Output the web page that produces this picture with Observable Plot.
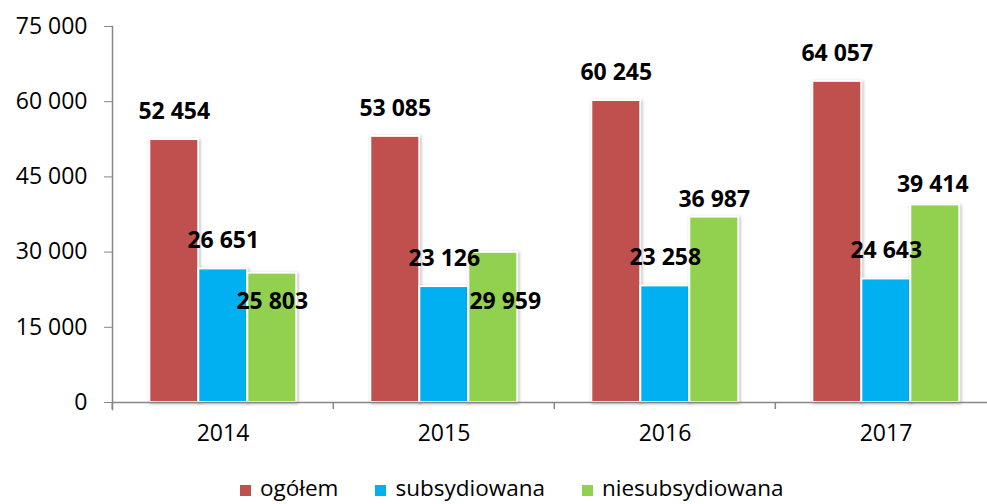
<!DOCTYPE html>
<html><head><meta charset="utf-8">
<script src="https://cdn.jsdelivr.net/npm/d3@7"></script>
<script src="https://cdn.jsdelivr.net/npm/@observablehq/plot@0.6"></script>
<style>
body{margin:0;background:#fff;font-family:"Open Sans",sans-serif;overflow:hidden}
#chart{position:relative;width:987px;height:504px}
#chart svg{position:absolute;left:0;top:0;overflow:visible}
g[aria-label="bar"] rect{filter:drop-shadow(1px 1px 1.5px rgba(0,0,0,0.28))}
.legend{position:absolute;top:476px;left:240px;display:flex;align-items:center;font-size:22.5px;line-height:24px;color:#000;white-space:nowrap}
.legend .sw{display:inline-block;width:11px;height:11px;margin-right:9px;position:relative;top:2px}
.legend .it{display:flex;align-items:center;margin-right:37px}
</style></head><body>
<div id="chart"></div>
<script>
const years = ["2014", "2015", "2016", "2017"];
const seriesNames = ["ogółem", "subsydiowana", "niesubsydiowana"];
const ogolem = [52454, 53085, 60245, 64057];
const subsydiowana = [26651, 23126, 23258, 24643];
const niesubsydiowana = [25803, 29959, 36987, 39414];
const yTicks = [0, 15000, 30000, 45000, 60000, 75000];
const colors = ["#C0504D", "#00B0F0", "#92D050"];

const valuesBySeries = [ogolem, subsydiowana, niesubsydiowana];
const data = years.flatMap((yr, i) => seriesNames.map((s, j) => ({year: yr, series: s, value: valuesBySeries[j][i]})));

const fmt = d => d3.format(",")(d).replace(/,/g, " ");
const gray = "#868686";
const left = 110.7, step = 221.4;

function labels(series, yrs, dx, dy) {
  return Plot.text(data.filter(d => d.series === series && yrs.includes(d.year)), {
    fx: "year", x: "series", y: "value", text: d => fmt(d.value),
    dx, dy, fontWeight: "bold", fontSize: 23, fill: "#000"
  });
}

const plot = Plot.plot({
  width: 987, height: 460,
  marginTop: 26, marginBottom: 58, marginLeft: left, marginRight: 987 - (left + 4 * step),
  style: {fontFamily: "'Open Sans', sans-serif", fontSize: "23px", color: "#000", background: "transparent"},
  fx: {domain: years, padding: 0, label: null},
  x: {domain: seriesNames, paddingInner: 0, paddingOuter: 0.75, axis: null},
  y: {domain: [0, 75000], label: null},
  color: {domain: seriesNames, range: colors},
  marks: [
    Plot.barY(data, {fx: "year", x: "series", y: "value", fill: "series", stroke: "white", strokeWidth: 2}),
    Plot.ruleY([0], {stroke: gray, strokeWidth: 1.5}),
    Plot.frame({anchor: "left", facetAnchor: "left", insetBottom: -7, stroke: gray, strokeWidth: 1.5}),
    Plot.axisY({ticks: yTicks, tickFormat: fmt, tickSize: 8, tickPadding: 17, fontSize: 23, stroke: gray, fill: "#000", label: null}),
    Plot.axisFx({anchor: "bottom", tickSize: 0, tickPadding: 22, fontSize: 23, fill: "#000", label: null}),
    Plot.axisFx({anchor: "bottom", tickSize: 7, tickFormat: () => "", dx: -step / 2, stroke: gray, strokeWidth: 1.5, label: null}),
    labels("ogółem", years, 0, -28),
    labels("subsydiowana", years, 0, -28),
    labels("niesubsydiowana", ["2014"], 0, 28),
    labels("niesubsydiowana", ["2015"], 12, 49),
    labels("niesubsydiowana", ["2016"], 0, -17),
    labels("niesubsydiowana", ["2017"], -2.5, -20)
  ]
});
const chart = document.getElementById("chart");
chart.appendChild(plot);

const legend = document.createElement("div");
legend.className = "legend";
seriesNames.forEach((s, i) => {
  const it = document.createElement("div");
  it.className = "it";
  const sw = document.createElement("span");
  sw.className = "sw";
  sw.style.background = colors[i];
  it.appendChild(sw);
  it.appendChild(document.createTextNode(s));
  legend.appendChild(it);
});
chart.appendChild(legend);
</script>
</body></html>
